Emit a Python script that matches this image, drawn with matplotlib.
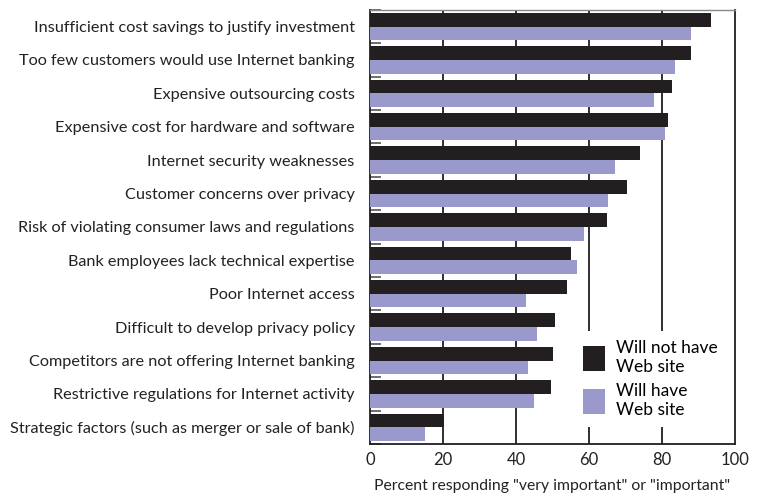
import matplotlib
matplotlib.use("Agg")
import matplotlib.pyplot as plt
import numpy as np

# Барьеры для интернет-банкинга
labels = [
    "Insufficient cost savings to justify investment",
    "Too few customers would use Internet banking",
    "Expensive outsourcing costs",
    "Expensive cost for hardware and software",
    "Internet security weaknesses",
    "Customer concerns over privacy",
    "Risk of violating consumer laws and regulations",
    "Bank employees lack technical expertise",
    "Poor Internet access",
    "Difficult to develop privacy policy",
    "Competitors are not offering Internet banking",
    "Restrictive regulations for Internet activity",
    "Strategic factors (such as merger or sale of bank)",
]
will_not_have = [93.3, 87.9, 82.7, 81.6, 74.0, 70.4, 64.9, 55.1, 54.0, 50.7, 50.1, 49.6, 20.3]
will_have = [87.9, 83.6, 77.8, 80.7, 67.1, 65.2, 58.6, 56.7, 42.7, 45.8, 43.3, 44.9, 15.1]
xticks = [0, 20, 40, 60, 80, 100]

plt.rcParams['font.family'] = ['Lato', 'DejaVu Sans']

fig = plt.figure(figsize=(7.66, 4.95), dpi=100)
ax = fig.add_axes([0.483, 0.103, 0.4765, 0.877])

y = np.arange(len(labels))
h = 0.41
ax.barh(y - h / 2, will_not_have, height=h, color='#231f20', label='Will not have\nWeb site', zorder=3)
ax.barh(y + h / 2, will_have, height=h, color='#9999cc', label='Will have\nWeb site', zorder=3)

ax.set_ylim(len(labels) - 0.5, -0.5)
ax.set_xlim(0, 100)
ax.set_yticks(y)
ax.set_yticklabels(labels, fontsize=11.7, color='#222222')
ax.set_yticks(np.arange(len(labels) + 1) - 0.5, minor=True)
ax.tick_params(axis='y', which='major', length=0, pad=11)
ax.tick_params(axis='y', which='minor', length=8, direction='in', color='#555555', width=1.2)
ax.set_xticks(xticks)
ax.set_xticklabels([str(t) for t in xticks], fontsize=12, color='#222222')
ax.tick_params(axis='x', length=0, pad=6)

for gx in [20, 40, 60, 80]:
    ax.axvline(gx, color='#231f20', lw=1.3, zorder=1)

for s in ['left', 'right', 'bottom']:
    ax.spines[s].set_color('#231f20')
    ax.spines[s].set_linewidth(1.3)
ax.spines['top'].set_color('#888888')
ax.spines['top'].set_linewidth(1)

ax.set_xlabel('Percent responding "very important" or "important"', fontsize=11.3, color='#222222', labelpad=8)

leg = ax.legend(loc='lower right', bbox_to_anchor=(1.0, 0.02), fontsize=12.5, frameon=True,
                handlelength=1.3, handleheight=1.8, handletextpad=0.6, labelspacing=0.5,
                borderpad=0.5)
leg.get_frame().set_edgecolor('none')
leg.get_frame().set_facecolor('white')
leg.get_frame().set_alpha(1)
leg.set_zorder(5)

plt.savefig('out.png', dpi=100)
